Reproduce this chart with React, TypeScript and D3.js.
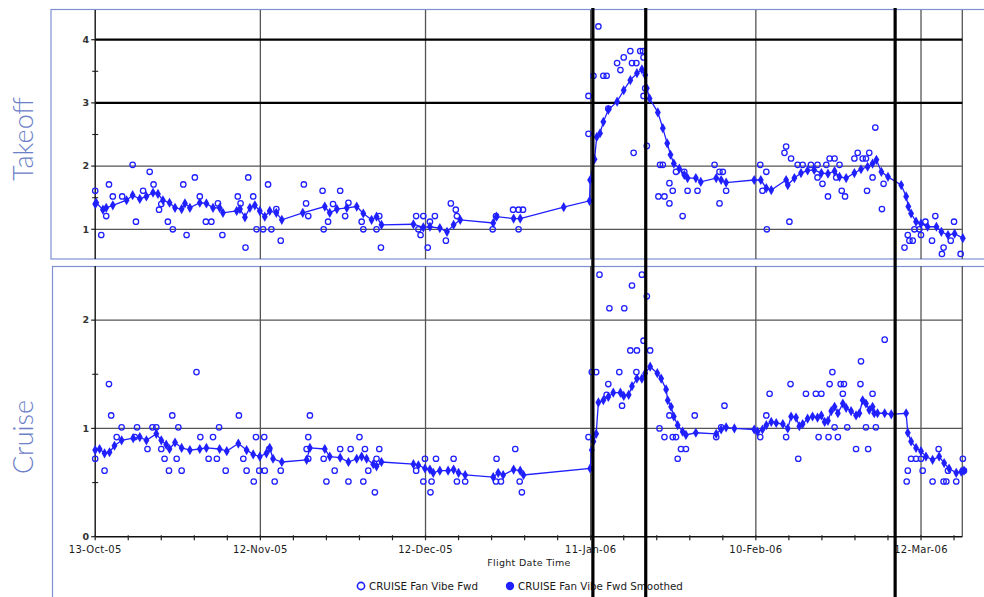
import React from "react";
import * as d3 from "d3";

// ---------- data (day offset from 13-Oct-05, value) ----------
const X_TICK_LABELS = ["13-Oct-05", "12-Nov-05", "12-Dec-05", "11-Jan-06", "10-Feb-06", "12-Mar-06"];
const X_TICK_DAYS = [0, 30, 60, 90, 120, 150];
const X_MINOR_STEP = 6;
const X_DOMAIN_END = 157.5;

const TAKEOFF_TICKS = [1, 2, 3, 4];
const TAKEOFF_THICK = [3, 4];
const TAKEOFF_MINOR = [1.5, 2.5, 3.5];
const CRUISE_TICKS = [0, 1, 2];
const CRUISE_MINOR = [0.5, 1.5];

const EVENT_DAYS = [90.4, 100.0, 145.3];

const LEGEND_LABELS = ["CRUISE Fan Vibe Fwd", "CRUISE Fan Vibe Fwd Smoothed"];

const takeoffSmooth: [number, number][] = [
  [0, 1.4], [0.2, 1.42], [1.4, 1.31], [2.0, 1.34], [3.2, 1.38], [5.7, 1.46], [6.8, 1.54], [8.1, 1.48],
  [9.3, 1.52], [10.5, 1.58], [11.4, 1.56], [12.3, 1.46], [13.5, 1.42], [14.5, 1.34], [15.7, 1.32],
  [16.3, 1.41], [17.2, 1.34], [19.0, 1.42], [20.2, 1.41], [21.4, 1.34], [22.6, 1.34], [23.2, 1.26],
  [25.7, 1.29], [26.3, 1.32], [27.2, 1.19], [28.1, 1.34], [29.0, 1.38], [29.9, 1.29], [30.8, 1.2],
  [31.7, 1.29], [32.9, 1.26], [33.9, 1.15], [37.7, 1.26], [41.7, 1.36], [42.6, 1.26], [43.9, 1.32],
  [45.7, 1.34], [47.5, 1.36], [48.7, 1.25], [50.2, 1.15], [51.1, 1.2], [52.0, 1.07], [57.8, 1.08],
  [59.6, 1.03], [60.8, 1.04], [62.6, 1.02], [63.9, 0.96], [65.1, 1.07], [66.3, 1.15], [72.3, 1.1],
  [72.9, 1.2], [76.0, 1.17], [77.2, 1.17], [85.1, 1.35], [89.8, 1.45], [89.9, 1.78], [90.7, 2.11],
  [91.1, 2.46], [91.7, 2.52], [92.3, 2.7], [93.2, 2.89], [94.8, 3.02], [96.0, 3.2], [97.2, 3.36],
  [98.4, 3.47], [99.3, 3.53], [99.9, 3.44], [100.2, 3.23], [100.7, 3.07], [102.2, 2.85], [103.1, 2.6],
  [103.9, 2.36], [104.5, 2.18], [105.1, 2.04], [106.1, 1.96], [107.0, 1.86], [107.6, 1.81],
  [109.1, 1.81], [110.0, 1.75], [112.8, 1.81], [113.7, 1.78], [114.6, 1.74], [119.7, 1.78],
  [120.9, 1.78], [121.9, 1.65], [122.8, 1.62], [125.5, 1.78], [125.8, 1.7], [127.0, 1.81],
  [128.2, 1.89], [129.4, 1.93], [130.6, 1.94], [131.9, 1.89], [133.1, 1.88], [134.3, 1.92],
  [135.2, 1.83], [136.4, 1.81], [137.9, 1.89], [139.1, 1.95], [140.3, 1.99], [141.2, 2.04],
  [141.9, 2.1], [142.8, 1.91], [144.0, 1.83], [146.4, 1.7], [147.3, 1.52], [147.7, 1.36],
  [148.2, 1.25], [149.1, 1.12], [150.0, 1.09], [151.2, 1.04], [152.8, 1.04], [153.7, 0.96],
  [154.9, 0.91], [156.1, 0.93], [157.6, 0.86],
];

const takeoffRaw: [number, number][] = [
  [0, 1.61], [1.1, 0.91], [2.0, 1.21], [2.5, 1.71], [3.2, 1.52], [4.9, 1.52], [6.8, 2.02], [7.4, 1.12],
  [8.7, 1.61], [9.9, 1.91], [10.6, 1.71], [11.6, 1.31], [12.0, 1.4], [13.2, 1.12], [14.1, 1.0],
  [16.0, 1.71], [16.6, 0.91], [18.1, 1.82], [19.0, 1.52], [20.1, 1.12], [21.1, 1.12], [22.3, 1.41],
  [23.1, 0.91], [25.9, 1.52], [26.4, 1.41], [27.3, 0.71], [27.8, 1.82], [28.7, 1.52], [29.3, 1.0],
  [30.5, 1.0], [31.4, 1.71], [32.0, 1.0], [32.9, 1.32], [33.7, 0.82], [37.9, 1.71], [38.3, 1.41],
  [38.7, 1.21], [41.3, 1.61], [41.5, 1.0], [42.3, 1.12], [43.2, 1.4], [44.5, 1.61], [45.4, 1.21],
  [46.0, 1.42], [48.4, 1.12], [48.7, 1.0], [51.1, 1.0], [51.6, 1.21], [51.9, 0.71], [58.3, 1.21],
  [58.7, 1.0], [59.1, 0.91], [59.6, 1.21], [60.4, 0.71], [60.8, 1.12], [61.7, 1.21], [63.7, 0.82],
  [64.6, 1.41], [65.5, 1.31], [65.7, 1.21], [72.2, 1.0], [72.8, 1.21], [75.9, 1.31], [76.9, 1.31],
  [77.7, 1.31], [76.9, 1.0], [89.6, 2.51], [89.6, 3.11], [90.5, 3.43], [91.4, 4.21], [92.3, 3.43],
  [92.9, 3.43], [93.2, 2.91], [94.8, 3.63], [95.4, 3.52], [96.0, 3.72], [97.2, 3.82], [97.5, 3.63],
  [98.3, 3.63], [99.0, 3.82], [99.5, 3.82], [99.6, 3.72], [97.8, 2.21], [99.6, 3.11], [100.2, 2.32],
  [99.9, 3.23], [102.3, 1.52], [102.6, 2.02], [103.1, 2.02], [105.5, 1.91], [104.3, 1.73],
  [104.9, 1.61], [103.4, 1.52], [104.3, 1.41], [106.7, 1.21], [107.0, 1.91], [107.6, 1.61],
  [109.4, 1.61], [112.5, 2.02], [113.4, 1.91], [114.0, 1.91], [114.6, 1.61], [113.4, 1.41],
  [120.8, 2.02], [121.9, 1.91], [121.2, 1.61], [122.0, 1.0], [125.5, 2.31], [125.2, 2.21],
  [126.4, 2.12], [126.1, 1.12], [127.6, 2.02], [128.5, 2.02], [130.0, 2.02], [131.2, 2.02],
  [132.8, 2.02], [133.4, 2.12], [134.3, 2.12], [135.2, 2.02], [132.1, 1.72], [133.1, 1.52],
  [131.2, 1.82], [134.6, 1.82], [135.6, 1.61], [136.2, 1.52], [137.9, 2.12], [138.5, 2.21],
  [139.4, 2.12], [140.6, 2.21], [140.0, 2.12], [141.7, 2.61], [141.2, 1.82], [140.2, 1.61],
  [143.2, 1.72], [142.9, 1.32], [147.6, 0.91], [147.0, 0.71], [147.9, 0.82], [148.5, 0.82],
  [148.8, 1.0], [149.7, 1.0], [150.0, 0.91], [150.8, 1.12], [152.6, 1.21], [152.0, 0.82],
  [154.1, 0.71], [153.8, 0.61], [155.4, 0.82], [156.0, 1.12], [157.2, 0.61],
];

const cruiseSmooth: [number, number][] = [
  [0, 0.8], [0.8, 0.81], [1.7, 0.77], [2.6, 0.78], [3.5, 0.84], [4.8, 0.89], [6.9, 0.91], [8.1, 0.92],
  [9.3, 0.89], [11.1, 0.95], [12.0, 0.89], [12.9, 0.85], [13.5, 0.81], [14.5, 0.87], [15.7, 0.82],
  [17.2, 0.8], [19.0, 0.81], [20.2, 0.82], [22.6, 0.81], [23.9, 0.79], [26.0, 0.86], [27.5, 0.8],
  [28.7, 0.76], [29.9, 0.74], [31.1, 0.77], [31.7, 0.82], [32.3, 0.72], [33.9, 0.69], [38.4, 0.71],
  [39.0, 0.82], [41.7, 0.81], [42.6, 0.74], [44.5, 0.73], [46.0, 0.69], [47.5, 0.72], [48.4, 0.74],
  [49.3, 0.72], [50.5, 0.67], [51.1, 0.65], [52.0, 0.69], [57.8, 0.67], [58.7, 0.66], [59.9, 0.63],
  [60.8, 0.62], [61.4, 0.59], [62.6, 0.61], [64.1, 0.61], [65.1, 0.62], [66.0, 0.59], [67.2, 0.57],
  [72.3, 0.55], [73.2, 0.59], [74.1, 0.57], [76.0, 0.62], [77.2, 0.61], [77.8, 0.57], [89.9, 0.63],
  [90.2, 0.8], [90.5, 0.88], [91.0, 0.95], [91.4, 1.24], [92.3, 1.26], [93.2, 1.29], [94.1, 1.33],
  [95.4, 1.33], [96.0, 1.3], [96.9, 1.31], [97.5, 1.39], [98.4, 1.46], [99.3, 1.46], [99.9, 1.51],
  [100.8, 1.57], [102.1, 1.51], [102.8, 1.46], [103.7, 1.36], [104.0, 1.26], [104.6, 1.2],
  [105.1, 1.11], [105.8, 1.03], [106.7, 0.97], [107.3, 0.94], [109.1, 0.96], [112.8, 0.95],
  [113.7, 0.99], [114.6, 1.01], [116.1, 1.0], [119.7, 0.99], [120.3, 0.97], [121.2, 0.99],
  [121.9, 1.03], [122.8, 1.06], [123.7, 1.05], [124.9, 1.04], [125.8, 1.0], [126.4, 1.11],
  [127.3, 1.1], [127.9, 1.02], [128.5, 1.04], [129.4, 1.09], [130.3, 1.11], [131.2, 1.1],
  [131.9, 1.12], [132.5, 1.06], [133.1, 1.07], [133.7, 1.16], [134.3, 1.2], [134.9, 1.14],
  [135.8, 1.23], [136.4, 1.19], [137.3, 1.16], [138.2, 1.12], [138.8, 1.14], [139.4, 1.26],
  [140.0, 1.23], [140.6, 1.17], [141.2, 1.2], [141.5, 1.14], [142.1, 1.14], [143.4, 1.14],
  [144.6, 1.13], [147.3, 1.14], [147.6, 0.96], [148.2, 0.88], [149.1, 0.82], [150.0, 0.79],
  [150.9, 0.74], [152.1, 0.71], [153.3, 0.74], [154.2, 0.68], [155.1, 0.63], [156.4, 0.59],
  [157.3, 0.6], [157.8, 0.61],
];

const cruiseRaw: [number, number][] = [
  [0, 0.72], [1.7, 0.61], [2.5, 1.41], [2.9, 1.12], [3.9, 0.92], [4.8, 1.01], [7.2, 0.92], [7.6, 1.01],
  [9.5, 0.81], [10.4, 1.01], [11.1, 1.01], [12.0, 0.81], [12.6, 0.72], [13.4, 0.61], [14.0, 1.12],
  [14.8, 0.72], [15.1, 1.01], [15.7, 0.61], [18.4, 1.52], [19.1, 0.92], [20.6, 0.72], [21.4, 0.92],
  [22.1, 0.72], [22.5, 1.01], [23.7, 0.61], [26.1, 1.12], [26.9, 0.72], [27.5, 0.61], [28.8, 0.51],
  [29.2, 0.92], [29.8, 0.61], [30.7, 0.92], [30.8, 0.61], [31.6, 0.81], [32.6, 0.51], [33.7, 0.61],
  [38.7, 0.92], [39.0, 1.12], [38.4, 0.81], [38.7, 0.72], [41.5, 0.72], [42.0, 0.51], [43.5, 0.61],
  [44.5, 0.81], [46.0, 0.51], [46.4, 0.81], [48.0, 0.92], [48.7, 0.51], [49.0, 0.81], [49.6, 0.61],
  [50.8, 0.41], [51.1, 0.72], [51.6, 0.81], [58.3, 0.61], [59.6, 0.51], [59.9, 0.72], [61.1, 0.51],
  [60.9, 0.41], [61.9, 0.72], [65.1, 0.72], [65.7, 0.51], [67.2, 0.51], [72.8, 0.51], [72.9, 0.72],
  [73.7, 0.51], [76.3, 0.81], [77.1, 0.51], [77.5, 0.41], [89.6, 0.92], [90.2, 1.52], [91.0, 1.52],
  [91.6, 2.42], [93.4, 2.11], [93.2, 1.41], [92.9, 1.31], [95.2, 1.52], [95.7, 1.21], [96.1, 2.11],
  [97.5, 2.32], [97.2, 1.72], [98.4, 1.72], [98.3, 1.52], [99.3, 2.42], [99.6, 1.81], [100.2, 2.22],
  [100.8, 1.72], [102.5, 1.0], [104.3, 1.12], [103.4, 0.92], [104.9, 0.92], [105.5, 0.92],
  [105.8, 0.72], [106.4, 0.81], [107.3, 0.81], [108.9, 1.12], [112.8, 0.92], [114.3, 1.21],
  [113.7, 1.01], [120.8, 0.92], [121.9, 1.12], [122.5, 1.32], [126.3, 1.41], [125.5, 0.92],
  [127.7, 0.72], [129.1, 1.32], [130.9, 1.32], [131.9, 1.32], [131.4, 0.92], [133.2, 0.92],
  [133.4, 1.41], [133.9, 1.52], [134.3, 1.01], [134.9, 0.92], [135.4, 1.41], [136.0, 1.41],
  [135.8, 1.32], [136.6, 1.01], [138.2, 0.81], [139.0, 1.41], [139.1, 1.62], [140.0, 1.01],
  [140.4, 0.81], [141.2, 1.32], [141.8, 1.01], [143.4, 1.82], [147.6, 0.61], [147.4, 0.51],
  [148.2, 0.72], [149.1, 0.72], [150.0, 0.72], [150.3, 0.61], [152.1, 0.51], [153.2, 0.81],
  [154.1, 0.51], [154.6, 0.51], [154.9, 0.61], [156.4, 0.51], [157.6, 0.72], [157.8, 0.61],
];

// ---------- styling ----------
const W = 984;
const H = 597;
const BLUE = "#2020ff";
const PANEL_BORDER = "#7f8fd2";
const LABEL_BLUE = "#6c80c8";
const GRID = "#555";
const FONT = "'DejaVu Sans', Verdana, sans-serif";

const x = d3.scaleLinear().domain([0, X_DOMAIN_END]).range([95.2, 962.3]);
const yTop = d3.scaleLinear().domain([0.53, 4.47]).range([259, 10]);
const yBot = d3.scaleLinear().domain([0, 2.5]).range([536.7, 266]);

function Series({ y, raw, smooth }: { y: d3.ScaleLinear<number, number>; raw: [number, number][]; smooth: [number, number][] }) {
  const line = d3
    .line<[number, number]>()
    .x((d) => x(d[0]))
    .y((d) => y(d[1]));
  const sym = d3.symbol().type(d3.symbolDiamond).size(30);
  return (
    <g>
      <path d={line(smooth) || ""} fill="none" stroke={BLUE} strokeWidth={1.3} />
      {smooth.map((d, i) => (
        <path key={"s" + i} d={sym() || ""} transform={`translate(${x(d[0])},${y(d[1])})`} fill={BLUE} />
      ))}
      {raw.map((d, i) => (
        <circle key={"r" + i} cx={x(d[0])} cy={y(d[1])} r={2.7} fill="none" stroke={BLUE} strokeWidth={1.3} />
      ))}
    </g>
  );
}

export default function App() {
  const [x0, x1] = x.range();
  const minorDays = d3.range(0, X_DOMAIN_END, X_MINOR_STEP);
  const gridDays = X_TICK_DAYS.filter((d) => d > 0);
  const topPlot = { t: yTop.range()[1], b: yTop.range()[0] };
  const botPlot = { t: yBot.range()[1], b: yBot.range()[0] };

  return (
    <svg width={W} height={H} style={{ position: "absolute", left: 0, top: 0, background: "#fff" }} fontFamily={FONT}>
      <rect x={0} y={0} width={W} height={H} fill="#fff" />
      {/* panel frames */}
      <rect x={51} y={9.5} width={W} height={249.5} fill="none" stroke={PANEL_BORDER} strokeWidth={1.2} />
      <rect x={52.5} y={266.5} width={W} height={H} fill="none" stroke={PANEL_BORDER} strokeWidth={1.2} />

      {/* panel titles */}
      <text transform={`translate(33,139) rotate(-90)`} textAnchor="middle" fontFamily="Lato, 'Open Sans', sans-serif" fontWeight={300} fontSize={27} fill={LABEL_BLUE}>
        Takeoff
      </text>
      <text transform={`translate(33,437) rotate(-90)`} textAnchor="middle" fontFamily="Lato, 'Open Sans', sans-serif" fontWeight={300} fontSize={27} fill={LABEL_BLUE}>
        Cruise
      </text>

      {/* ---------- top panel ---------- */}
      <g>
        {gridDays.map((d) => (
          <line key={d} x1={x(d)} x2={x(d)} y1={topPlot.t} y2={topPlot.b} stroke={GRID} strokeWidth={1.3} />
        ))}
        <line x1={x1} x2={x1} y1={topPlot.t} y2={topPlot.b} stroke={GRID} strokeWidth={1.3} />
        {TAKEOFF_TICKS.map((v) => {
          const thick = TAKEOFF_THICK.includes(v);
          return (
            <g key={v}>
              <line x1={x0} x2={x1} y1={yTop(v)} y2={yTop(v)} stroke={thick ? "#000" : GRID} strokeWidth={thick ? 2.2 : 1.3} />
              <line x1={x0 - 4} x2={x0} y1={yTop(v)} y2={yTop(v)} stroke="#222" strokeWidth={1.2} />
              <text x={x0 - 6} y={yTop(v)} dy="0.35em" textAnchor="end" fontSize={9.5} fontWeight="bold" fill="#333">
                {v}
              </text>
            </g>
          );
        })}
        {TAKEOFF_MINOR.map((v) => (
          <line key={v} x1={x0 - 3} x2={x0 + 3} y1={yTop(v)} y2={yTop(v)} stroke="#222" strokeWidth={1.1} />
        ))}
        <line x1={x0} x2={x0} y1={topPlot.t} y2={topPlot.b} stroke="#111" strokeWidth={1.4} />
        <Series y={yTop} raw={takeoffRaw} smooth={takeoffSmooth} />
      </g>

      {/* ---------- bottom panel ---------- */}
      <g>
        {gridDays.map((d) => (
          <line key={d} x1={x(d)} x2={x(d)} y1={botPlot.t} y2={botPlot.b} stroke={GRID} strokeWidth={1.3} />
        ))}
        <line x1={x1} x2={x1} y1={botPlot.t} y2={botPlot.b} stroke={GRID} strokeWidth={1.3} />
        {CRUISE_TICKS.map((v) => (
          <g key={v}>
            {v > 0 && <line x1={x0} x2={x1} y1={yBot(v)} y2={yBot(v)} stroke={GRID} strokeWidth={1.3} />}
            <line x1={x0 - 4} x2={x0} y1={yBot(v)} y2={yBot(v)} stroke="#222" strokeWidth={1.2} />
            <text x={x0 - 6} y={yBot(v)} dy="0.35em" textAnchor="end" fontSize={9.5} fontWeight="bold" fill="#333">
              {v}
            </text>
          </g>
        ))}
        {CRUISE_MINOR.map((v) => (
          <line key={v} x1={x0 - 3} x2={x0 + 3} y1={yBot(v)} y2={yBot(v)} stroke="#222" strokeWidth={1.1} />
        ))}
        <line x1={x0} x2={x0} y1={botPlot.t} y2={botPlot.b} stroke="#111" strokeWidth={1.4} />
        <line x1={x0} x2={x1} y1={botPlot.b} y2={botPlot.b} stroke="#111" strokeWidth={1.4} />
        {minorDays.map((d) => (
          <line key={d} x1={x(d)} x2={x(d)} y1={botPlot.b - 1.5} y2={botPlot.b + 3.5} stroke="#222" strokeWidth={1.2} />
        ))}
        {X_TICK_DAYS.map((d, i) => (
          <text key={d} x={x(d)} y={botPlot.b + 16} textAnchor="middle" fontSize={10} fill="#1a1a1a" letterSpacing={0.3}>
            {X_TICK_LABELS[i]}
          </text>
        ))}
        <text x={529} y={566} textAnchor="middle" fontSize={9.5} fill="#1a1a1a" letterSpacing={0.3}>
          Flight Date Time
        </text>
        <Series y={yBot} raw={cruiseRaw} smooth={cruiseSmooth} />
      </g>

      {/* legend */}
      <g>
        <circle cx={361} cy={586} r={3.6} fill="none" stroke={BLUE} strokeWidth={1.6} />
        <text x={369} y={589.5} fontSize={10.3} fill="#1a1a1a">
          {LEGEND_LABELS[0]}
        </text>
        <circle cx={510} cy={586} r={4.2} fill={BLUE} />
        <text x={518} y={589.5} fontSize={10.3} fill="#1a1a1a">
          {LEGEND_LABELS[1]}
        </text>
      </g>

      {/* event markers */}
      {EVENT_DAYS.map((d) => (
        <line key={d} x1={x(d)} x2={x(d)} y1={8} y2={H} stroke="#000" strokeWidth={3.2} />
      ))}
    </svg>
  );
}
